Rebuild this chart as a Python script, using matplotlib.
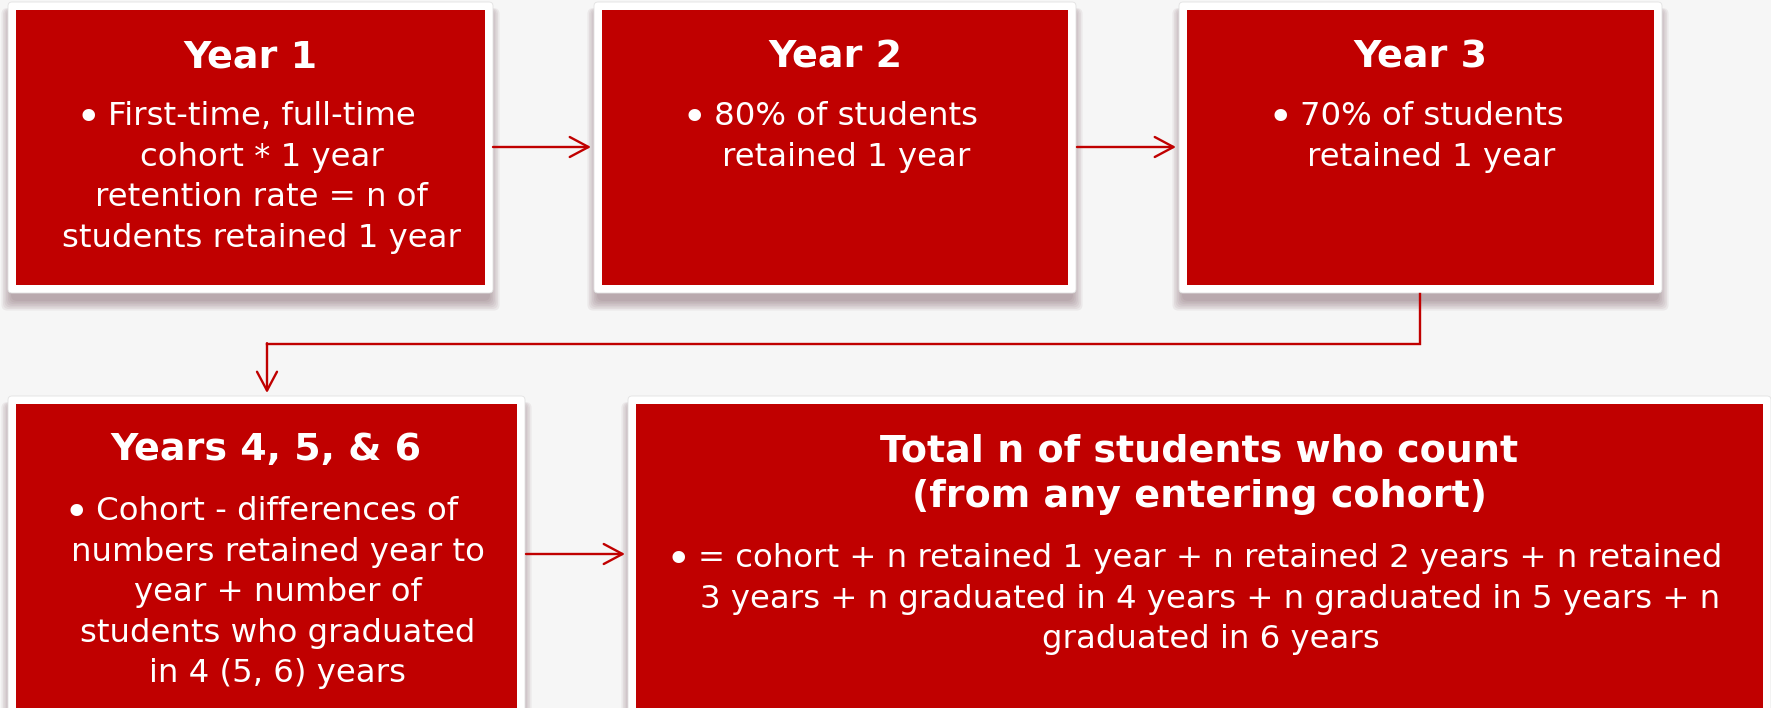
import matplotlib
matplotlib.use("Agg")
import matplotlib.pyplot as plt
from matplotlib.patches import FancyBboxPatch, FancyArrowPatch
from matplotlib.lines import Line2D

# ---- content ----
titles = [
    ["Year 1"],
    ["Year 2"],
    ["Year 3"],
    ["Years 4, 5, & 6"],
    ["Total n of students who count", "(from any entering cohort)"],
]
bodies = [
    ["First-time, full-time", "cohort * 1 year", "retention rate = n of",
     "students retained 1 year"],
    ["80% of students", "retained 1 year"],
    ["70% of students", "retained 1 year"],
    ["Cohort - differences of", "numbers retained year to", "year + number of",
     "students who graduated", "in 4 (5, 6) years"],
    ["= cohort + n retained 1 year + n retained 2 years + n retained",
     "3 years + n graduated in 4 years + n graduated in 5 years + n",
     "graduated in 6 years"],
]

# ---- layout (pixels, y downward) ----
W, H = 1771, 708
red_boxes = [(16, 10, 485, 285), (602, 10, 1068, 285), (1187, 10, 1654, 285),
             (16, 404, 517, 730), (636, 404, 1763, 730)]
title_base = [[67], [67], [67], [460], [462, 507]]
body_base = [125, 125, 125, 520, 567]
line_step = 40.6
RED = "#C00000"
BG = "#F6F6F6"

fig = plt.figure(figsize=(W / 100, H / 100), dpi=100)
fig.patch.set_facecolor(BG)
ax = fig.add_axes([0, 0, 1, 1])
ax.set_xlim(0, W)
ax.set_ylim(H, 0)
ax.axis("off")
ax.set_facecolor(BG)

m = 8
for (x0, y0, x1, y1) in red_boxes:
    # shadow
    for i in range(7):
        g = 1.6 * i
        ax.add_patch(FancyBboxPatch((x0 - m - g + 3, y0 - m + 8 - g * 0.2),
                                    (x1 - x0) + 2 * m + 2 * g - 6, (y1 - y0) + 2 * m + 1.2 * g,
                                    boxstyle="round,pad=0,rounding_size=6",
                                    facecolor="#7a5a62", edgecolor="none",
                                    alpha=0.085, zorder=1))
    # white frame
    ax.add_patch(FancyBboxPatch((x0 - m, y0 - m), (x1 - x0) + 2 * m, (y1 - y0) + 2 * m,
                                boxstyle="round,pad=0,rounding_size=4",
                                facecolor="white", edgecolor="#e2e2e2", lw=0.6, zorder=2))
    ax.add_patch(FancyBboxPatch((x0, y0), x1 - x0, y1 - y0,
                                boxstyle="square,pad=0",
                                facecolor=RED, edgecolor="none", zorder=3))

# arrows
def arrow(p0, p1):
    ax.add_patch(FancyArrowPatch(p0, p1, arrowstyle="->,head_length=1.35,head_width=0.72",
                                 mutation_scale=10, color=RED, lw=1.7,
                                 shrinkA=0, shrinkB=0, zorder=4))

arrow((493, 147), (591, 147))
arrow((1077, 147), (1176, 147))
ax.add_line(Line2D([1420, 1420, 267], [294, 344, 344], color=RED, lw=1.7,
                   solid_joinstyle="miter", zorder=4))
arrow((267, 343.2), (267, 393))
arrow((526, 554), (625, 554))

# texts
body_fs = 23.3
title_fs = 27.4
body_texts = []
for k, (x0, y0, x1, y1) in enumerate(red_boxes):
    cx = (x0 + x1) / 2
    for line, yb in zip(titles[k], title_base[k]):
        ax.text(cx, yb, line, color="white", fontsize=title_fs, fontweight="bold",
                ha="center", va="baseline", family="DejaVu Sans", zorder=5)
    tx = cx + 11
    first = None
    for j, line in enumerate(bodies[k]):
        t = ax.text(tx, body_base[k] + j * line_step, line, color="white",
                    fontsize=body_fs, ha="center", va="baseline",
                    family="DejaVu Sans", zorder=5)
        if j == 0:
            first = t
    body_texts.append(first)

fig.canvas.draw()
renderer = fig.canvas.get_renderer()
for k, t in enumerate(body_texts):
    bb = t.get_window_extent(renderer)
    left = bb.x0
    ax.text(left - 7, body_base[k] + 6, "\u2022", color="white", fontsize=31,
            ha="right", va="baseline", family="DejaVu Sans", zorder=5)

fig.savefig("out.png", dpi=100, facecolor=BG)
